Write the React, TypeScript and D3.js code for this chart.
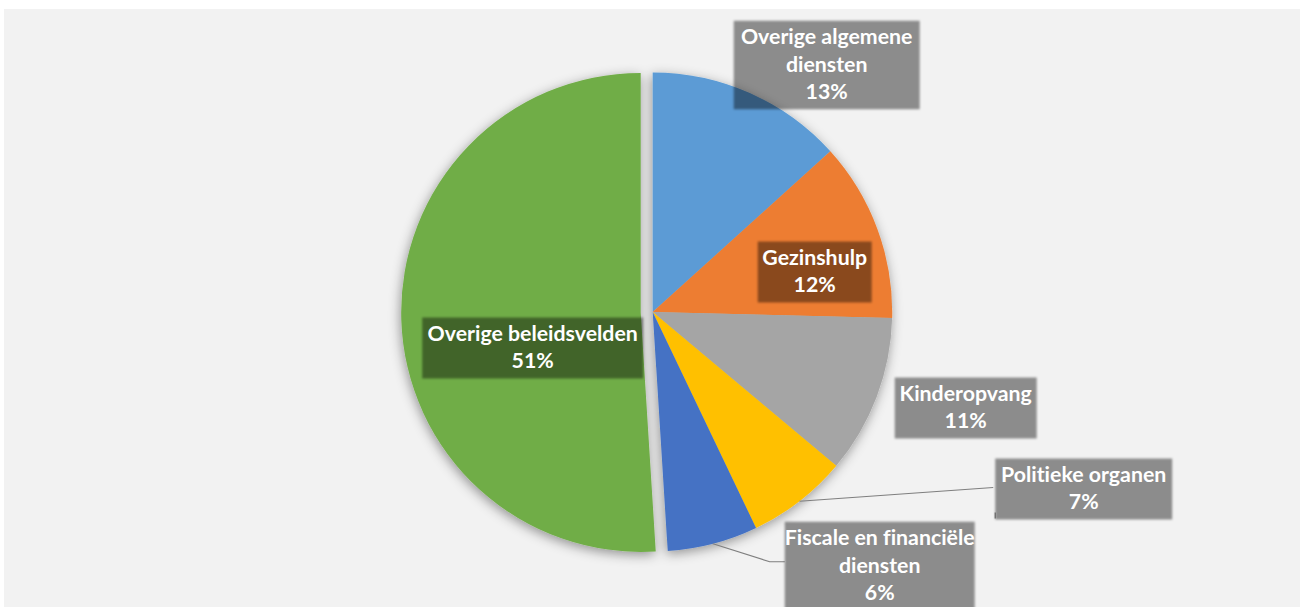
import React from "react";
import * as d3 from "d3";

const categories = [
  "Overige algemene diensten",
  "Gezinshulp",
  "Kinderopvang",
  "Politieke organen",
  "Fiscale en financiële diensten",
  "Overige beleidsvelden",
];
const values = [13.3, 12.1, 10.7, 6.8, 6.1, 51.0];
const percentLabels = ["13%", "12%", "11%", "7%", "6%", "51%"];
const labelLines = [
  ["Overige algemene", "diensten", "13%"],
  ["Gezinshulp", "12%"],
  ["Kinderopvang", "11%"],
  ["Politieke organen", "7%"],
  ["Fiscale en financiële", "diensten", "6%"],
  ["Overige beleidsvelden", "51%"],
];
const colors = ["#5B9BD5", "#ED7D31", "#A5A5A5", "#FFC000", "#4472C4", "#70AD47"];

// layout (relative to pie centre): box centre offset, box width
const W = 1300;
const H = 607;
const cx = 652.7;
const cy = 312;
const R = 239.5;
const explodeIdx = 5;
const explodeDist = 12;
const boxLayout = [
  { dx: 174, dy: -247, w: 186 },
  { dx: 162, dy: -40, w: 114 },
  { dx: 313, dy: 96, w: 142 },
  { dx: 431, dy: 177, w: 177 },
  { dx: 227, dy: 254, w: 190 },
  { dx: -120, dy: 36, w: 221 },
];
const leaderIdx = [3, 4];
const lineH = 27.5;

export default function App() {
  const pie = d3.pie<number>().sort(null).value((d) => d)(values);
  const arc = d3.arc<d3.PieArcDatum<number>>().innerRadius(0).outerRadius(R);

  const boxes = pie.map((p, i) => {
    const L = boxLayout[i];
    const n = labelLines[i].length;
    const h = n * lineH + 6;
    const bx = cx + L.dx - L.w / 2;
    const by = cy + L.dy - h / 2;
    return { bx, by, w: L.w, h, n, tcx: cx + L.dx, tcy: cy + L.dy };
  });

  return (
    <svg
      width={W}
      height={H}
      style={{ position: "absolute", left: 0, top: 0, display: "block" }}
    >
      <defs>
        <filter id="pieShadow" x="-20%" y="-20%" width="140%" height="140%">
          <feDropShadow dx="-1" dy="3" stdDeviation="6" floodColor="#000" floodOpacity="0.4" />
        </filter>
        <filter id="boxBlur" x="-10%" y="-20%" width="120%" height="140%">
          <feGaussianBlur stdDeviation="1.3" />
        </filter>
      </defs>
      <rect x={0} y={0} width={W} height={H} fill="#ffffff" />
      <rect x={4} y={9} width={W - 4} height={H - 9} fill="#f2f2f2" />
      <g filter="url(#pieShadow)">
        {pie.map((p, i) => {
          const mid = (p.startAngle + p.endAngle) / 2;
          const off = i === explodeIdx ? explodeDist : 0;
          const tx = cx + Math.sin(mid) * off;
          const ty = cy - Math.cos(mid) * off;
          return (
            <path
              key={categories[i]}
              d={arc(p) || ""}
              transform={`translate(${tx},${ty})`}
              fill={colors[i]}
            />
          );
        })}
      </g>
      {leaderIdx.map((i) => {
        const p = pie[i];
        const mid = (p.startAngle + p.endAngle) / 2;
        const sx = cx + Math.sin(mid) * R;
        const sy = cy - Math.cos(mid) * R;
        const b = boxes[i];
        if (i === 3) {
          return (
            <g key={i}>
              <polyline
                points={`${sx},${sy} ${b.bx - 2},${b.by + 29}`}
                fill="none"
                stroke="#7f7f7f"
                strokeWidth={1.2}
              />
              <line x1={b.bx} y1={b.by + 54} x2={b.bx} y2={b.by + 60} stroke="#7f7f7f" strokeWidth={1.2} />
            </g>
          );
        }
        return (
          <polyline
            key={i}
            points={`${sx},${sy} ${b.bx - 15},${b.by + 40} ${b.bx},${b.by + 40}`}
            fill="none"
            stroke="#7f7f7f"
            strokeWidth={1.2}
          />
        );
      })}
      {boxes.map((b, i) => (
        <g key={"lbl" + i}>
          <rect
            x={b.bx}
            y={b.by}
            width={b.w}
            height={b.h}
            fill="#000"
            fillOpacity={0.42}
            filter="url(#boxBlur)"
          />
          {labelLines[i].map((t, k) => (
            <text
              key={k}
              x={b.tcx}
              y={b.tcy - 1.5 + (k - (b.n - 1) / 2) * lineH}
              textAnchor="middle"
              dominantBaseline="central"
              fill="#ffffff"
              fontFamily="Lato, 'Open Sans', sans-serif"
              fontWeight={700}
              fontSize={21.3}
              style={{ fontVariantLigatures: "none" }}
            >
              {t}
            </text>
          ))}
        </g>
      ))}
      <title>{percentLabels.join(" ")}</title>
    </svg>
  );
}
